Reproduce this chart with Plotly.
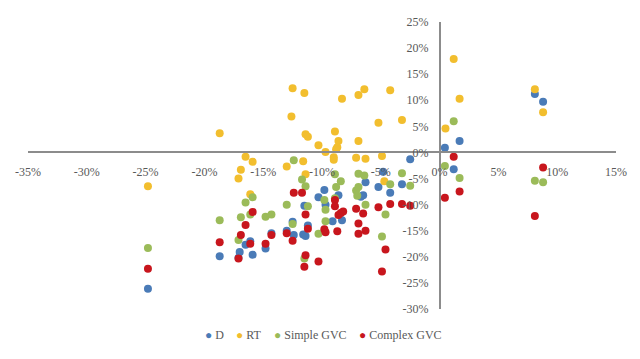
import plotly.graph_objects as go

# Data (percent)
d_x = [-24.8, -18.7, -17.1, -17.0, -16.5, -16.1, -15.9, -14.8, -14.3, -13.0, -12.5, -12.4, -11.6, -11.4,
       -11.5, -11.2, -10.3, -9.8, -9.7, -8.6, -8.3, -9.1, -6.3, -6.5, -6.7, -5.2, -4.8, -4.2, -3.2, -2.5,
       8.1, 8.8, 1.7, 0.45, 1.2]
d_y = [-26.1, -19.9, -20.2, -19.1, -17.7, -17.0, -19.6, -18.4, -15.5, -15.0, -13.3, -15.8, -15.7, -16.0,
       -10.2, -14.0, -8.6, -7.2, -10.0, -8.2, -13.0, -13.2, -5.7, -8.2, -8.5, -6.6, -3.7, -7.7, -6.1, -1.3,
       11.2, 9.7, 2.2, 0.9, -3.2]

rt_x = [-18.7, -12.5, -11.5, -12.6, -11.4, -11.2, -10.3, -9.7, -8.9, -8.6, -8.7, -8.8, -8.3, -6.9, -6.4,
        -6.9, -4.2, -5.2, -3.2, -16.5, -15.9, -11.6, -9.0, -9.0, -7.1, -6.3, -4.9, 0.5, 1.7, 8.1, 8.8, 1.2,
        -16.9, -17.1, -13.0, -11.4, -4.7, -24.8, -16.1]
rt_y = [3.7, 12.3, 11.4, 6.9, 3.5, 3.0, 1.4, 0.1, 4.0, 2.2, 1.0, 0.6, 10.3, 11.0, 12.1,
        2.2, 11.9, 5.7, 6.2, -0.8, -1.8, -1.7, -0.9, -1.4, -1.0, -1.2, -0.7, 4.6, 10.3, 12.1, 7.7, 17.9,
        -3.3, -5.0, -2.7, -4.2, -5.5, -6.5, -8.0]

sg_x = [-24.8, -18.7, -16.9, -16.5, -16.1, -15.9, -17.1, -14.8, -14.3, -13.0, -12.5, -12.4, -11.7, -11.4,
        -11.2, -10.3, -9.8, -9.7, -9.7, -8.9, -8.8, -8.4, -8.9, -7.1, -6.9, -6.4, -6.9, -7.0, -6.3, -4.6,
        -4.9, -4.2, -3.2, -2.5, -11.5, 1.2, 0.45, 1.7, 8.1, 8.8]
sg_y = [-18.3, -13.0, -12.4, -9.6, -11.9, -8.6, -16.8, -12.3, -11.9, -10.0, -13.7, -1.5, -5.2, -6.5,
        -10.3, -15.6, -9.1, -11.0, -13.2, -4.2, -6.6, -5.5, -8.8, -7.3, -4.1, -4.4, -6.6, -8.3, -10.0, -11.9,
        -16.1, -6.1, -4.0, -6.4, -20.3, 6.0, -2.6, -4.9, -5.4, -5.7]

cg_x = [-24.8, -18.7, -17.1, -16.9, -16.5, -15.9, -16.1, -14.8, -14.3, -13.0, -12.5, -12.4, -11.7, -11.4,
        -11.2, -11.4, -11.5, -10.3, -9.8, -9.7, -8.9, -8.9, -8.6, -8.4, -8.2, -8.7, -7.1, -6.9, -6.9, -6.5,
        -6.3, -5.2, -4.2, -4.6, -4.9, -3.2, -2.5, 1.2, 8.8, 1.7, 0.45, 8.1]
cg_y = [-22.3, -17.2, -20.3, -15.8, -13.9, -11.4, -17.5, -17.5, -15.8, -15.5, -16.9, -7.7, -7.7, -11.9,
        -14.6, -19.7, -21.9, -20.9, -14.7, -15.3, -9.1, -10.3, -12.0, -11.6, -11.3, -15.1, -10.8, -13.6, -15.6, -11.7,
        -15.0, -10.5, -9.9, -18.6, -22.8, -9.9, -10.2, -0.8, -2.9, -7.5, -8.7, -12.2]

series_names = ["D", "RT", "Simple GVC", "Complex GVC"]
series_colors = ["#4A7BB7", "#F2BE2E", "#9BBB59", "#C8161D"]
series_x = [d_x, rt_x, sg_x, cg_x]
series_y = [d_y, rt_y, sg_y, cg_y]

x_ticks = [-35, -30, -25, -20, -15, -10, -5, 0, 5, 10, 15]
y_ticks = [-30, -25, -20, -15, -10, -5, 0, 5, 10, 15, 20, 25]

SERIF = "Liberation Serif, Times New Roman, serif"
font = dict(family=SERIF, size=12, color="#595959")

fig = go.Figure()
for name, xs, ys, col in zip(series_names, series_x, series_y, series_colors):
    fig.add_trace(go.Scatter(x=xs, y=ys, mode="markers", name=name, showlegend=False,
                             marker=dict(color=col, size=8, line=dict(width=0))))

# compact legend (text entries below the plot)
legend_x = [0.2983, 0.3508, 0.4153, 0.5593]
for name, col, lx in zip(series_names, series_colors, legend_x):
    fig.add_annotation(xref="paper", yref="paper", x=lx, y=-0.092, xanchor="left", yanchor="middle",
                       showarrow=False, font=font,
                       text=f"<span style='color:{col}'>\u25cf</span>\u00a0{name}")

fig.update_layout(
    width=632, height=351,
    margin=dict(l=18, r=24, t=7, b=50),
    paper_bgcolor="white", plot_bgcolor="white",
    font=font,
    showlegend=False,
    xaxis=dict(range=[-35, 15], tickvals=x_ticks, ticktext=[f"{v}%" for v in x_ticks],
               anchor="free", position=30 / 55, showgrid=False, zeroline=False,
               showline=True, linecolor="#8C8C8C", linewidth=1.5, ticks="",
               ticklabelstandoff=8, tickfont=font),
    yaxis=dict(range=[-30, 25], tickvals=y_ticks, ticktext=[f"{v}%" for v in y_ticks],
               anchor="free", position=35 / 50, showgrid=False, zeroline=False,
               showline=True, linecolor="#8C8C8C", linewidth=1.5, ticks="",
               ticklabelstandoff=8, tickfont=font),
)

fig.write_html("out.html")
